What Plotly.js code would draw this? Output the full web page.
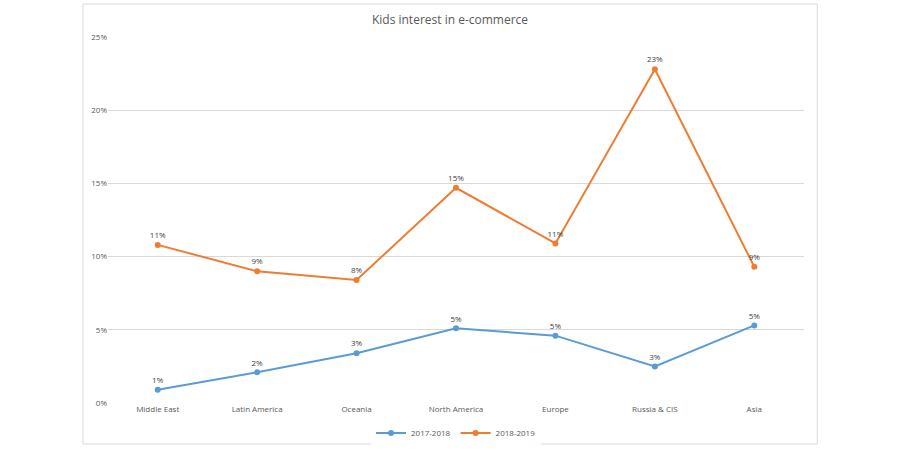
<!DOCTYPE html>
<html>
<head>
<meta charset="utf-8">
<script src="https://cdn.plot.ly/plotly-3.0.1.min.js"></script>
<style>body{margin:0;background:#fff}#chart{width:900px;height:450px}</style>
</head>
<body>
<div id="chart"></div>
<script>
// regions on the x axis
var regions = ["Middle East", "Latin America", "Oceania", "North America", "Europe", "Russia & CIS", "Asia"];

// share of kids interested in e-commerce (fraction)
var y2017 = [0.009, 0.021, 0.034, 0.051, 0.046, 0.025, 0.053];
var y2019 = [0.108, 0.090, 0.084, 0.147, 0.109, 0.228, 0.093];

var labelFont = { family: "Open Sans, sans-serif", size: 8, color: "#404040" };

function pct(v) { return v.map(d => Math.round(d * 100) + "%"); }

var trace1 = {
  x: regions, y: y2017, name: "2017-2018",
  mode: "lines+markers+text", text: pct(y2017), textposition: "top center",
  textfont: labelFont, cliponaxis: false,
  line: { color: "#5b9bd5", width: 2 }, marker: { color: "#5b9bd5", size: 6 }
};
var trace2 = {
  x: regions, y: y2019, name: "2018-2019",
  mode: "lines+markers+text", text: pct(y2019), textposition: "top center",
  textfont: labelFont, cliponaxis: false,
  line: { color: "#ed7d31", width: 2 }, marker: { color: "#ed7d31", size: 6 }
};

var layout = {
  width: 900, height: 450,
  margin: { l: 108, r: 96, t: 37, b: 47 },
  paper_bgcolor: "#fff", plot_bgcolor: "#fff",
  font: { family: "Open Sans, sans-serif", color: "#595959", size: 8 },
  title: { text: "Kids interest in e-commerce", x: 0.5, xanchor: "center", y: 0.955, yanchor: "middle",
           font: { size: 12, color: "#595959" } },
  xaxis: { type: "category", range: [-0.5, 6.5], showgrid: false, zeroline: false, showline: false, ticks: "",
           automargin: false, tickfont: { size: 8, color: "#595959" }, fixedrange: true },
  yaxis: { range: [0, 0.25], dtick: 0.05, tickformat: ".0%", showgrid: true, gridcolor: "#d9d9d9", automargin: false,
           zeroline: false, showline: false, ticks: "", ticklen: 0, tickfont: { size: 8, color: "#595959" } },
  showlegend: true,
  legend: { orientation: "h", x: 0.5, xanchor: "center", yref: "container", y: 0.038, yanchor: "middle",
            itemwidth: 30, tracegroupgap: 0, font: { size: 8, color: "#595959" } },
  shapes: [{ type: "rect", xref: "paper", yref: "paper", x0: -0.036, x1: 1.019, y0: -0.112, y1: 1.09,
             line: { color: "#d9d9d9", width: 1 } }]
};

Plotly.newPlot("chart", [trace1, trace2], layout, { displayModeBar: false });
</script>
</body>
</html>
